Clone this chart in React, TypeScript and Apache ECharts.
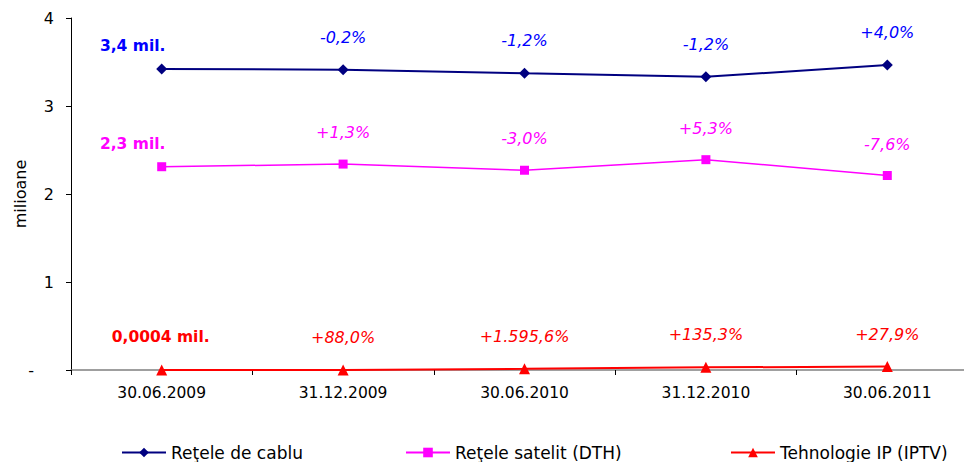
import React, { useEffect, useRef } from "react";
import * as echarts from "echarts";

const categories = ["30.06.2009", "31.12.2009", "30.06.2010", "31.12.2010", "30.06.2011"];
const cableValues = [3.42, 3.413, 3.372, 3.332, 3.465];
const satelliteValues = [2.31, 2.34, 2.27, 2.39, 2.21];
const iptvValues = [0.0004, 0.00075, 0.0128, 0.03, 0.0385];
const cableLabels = ["3,4 mil.", "-0,2%", "-1,2%", "-1,2%", "+4,0%"];
const satelliteLabels = ["2,3 mil.", "+1,3%", "-3,0%", "+5,3%", "-7,6%"];
const iptvLabels = ["0,0004 mil.", "+88,0%", "+1.595,6%", "+135,3%", "+27,9%"];
const seriesNames = ["Reţele de cablu", "Reţele satelit (DTH)", "Tehnologie IP (IPTV)"];
const yTicks = [0, 1, 2, 3, 4];

const FONT = "'DejaVu Sans', Verdana, sans-serif";

function buildData(values: number[], labels: string[], color: string, firstShift: number, firstDist: number) {
  return values.map((v, i) => ({
    value: v,
    label: i === 0
      ? {
          show: true,
          formatter: labels[i],
          color,
          fontWeight: "bold",
          fontStyle: "normal",
          fontSize: 15.5,
          distance: firstDist,
          offset: [firstShift, 0],
        }
      : { show: true, formatter: labels[i] },
  }));
}

export default function App() {
  const ref = useRef<HTMLDivElement>(null);
  useEffect(() => {
    if (!ref.current) return;
    const chart = echarts.init(ref.current, null, { renderer: "svg" });
    const pctLabel = (color: string) => ({
      show: true,
      position: "top",
      distance: 19,
      color,
      fontStyle: "italic",
      fontSize: 16,
      fontFamily: FONT,
    });
    const legendBase = {
      top: 439,
      itemWidth: 44,
      itemHeight: 12,
      textStyle: { fontFamily: FONT, fontSize: 17, color: "#000" },
    };
    chart.setOption({
      animation: false,
      backgroundColor: "#fff",
      textStyle: { fontFamily: FONT },
      grid: { left: 71, top: 18, bottom: 92, right: -14, containLabel: false, outerBoundsMode: "none" },
      legend: [
        { ...legendBase, left: 116, data: [seriesNames[0]] },
        { ...legendBase, left: 400, data: [seriesNames[1]] },
        { ...legendBase, left: 725, data: [seriesNames[2]] },
      ],
      xAxis: {
        type: "category",
        data: categories,
        boundaryGap: true,
        axisLine: { lineStyle: { color: "#808080", width: 1.5 } },
        axisTick: { show: true, length: 5, lineStyle: { color: "#000" } },
        axisLabel: { color: "#000", fontSize: 15.5, fontFamily: FONT, margin: 15 },
      },
      yAxis: {
        type: "value",
        min: yTicks[0],
        max: yTicks[yTicks.length - 1],
        interval: 1,
        name: "milioane",
        nameLocation: "middle",
        nameRotate: 90,
        nameGap: 43,
        nameMoveOverlap: false,
        nameTextStyle: { color: "#000", fontSize: 16, fontFamily: FONT },
        splitLine: { show: false },
        axisLine: { show: true, lineStyle: { color: "#000", width: 1 } },
        axisTick: { show: true, length: 5, lineStyle: { color: "#000" } },
        axisLabel: {
          color: "#000",
          fontSize: 16,
          fontFamily: FONT,
          margin: 17,
          formatter: (v: number) => (v === 0 ? "{d|-}" : String(v)),
          rich: { d: { fontSize: 16, fontFamily: FONT, color: "#000", padding: [0, 20, 0, 0] } },
        },
      },
      series: [
        {
          name: seriesNames[0],
          type: "line",
          data: buildData(cableValues, cableLabels, "#0000FF", -29, 10),
          symbol: "diamond",
          symbolSize: 11,
          color: "#000080",
          lineStyle: { color: "#000080", width: 2 },
          itemStyle: { color: "#000080" },
          label: pctLabel("#0000FF"),
          z: 3,
        },
        {
          name: seriesNames[1],
          type: "line",
          data: buildData(satelliteValues, satelliteLabels, "#FF00FF", -29, 10),
          symbol: "rect",
          symbolSize: 9,
          color: "#FF00FF",
          lineStyle: { color: "#FF00FF", width: 1.5 },
          itemStyle: { color: "#FF00FF" },
          label: pctLabel("#FF00FF"),
          z: 3,
        },
        {
          name: seriesNames[2],
          type: "line",
          data: buildData(iptvValues, iptvLabels, "#FF0000", -1, 19),
          symbol: "triangle",
          symbolSize: 11,
          color: "#FF0000",
          lineStyle: { color: "#FF0000", width: 2 },
          itemStyle: { color: "#FF0000" },
          label: pctLabel("#FF0000"),
          z: 4,
        },
      ],
    });
    return () => chart.dispose();
  }, []);
  return <div ref={ref} style={{ width: 964, height: 462, position: "absolute", left: 0, top: 0 }} />;
}
